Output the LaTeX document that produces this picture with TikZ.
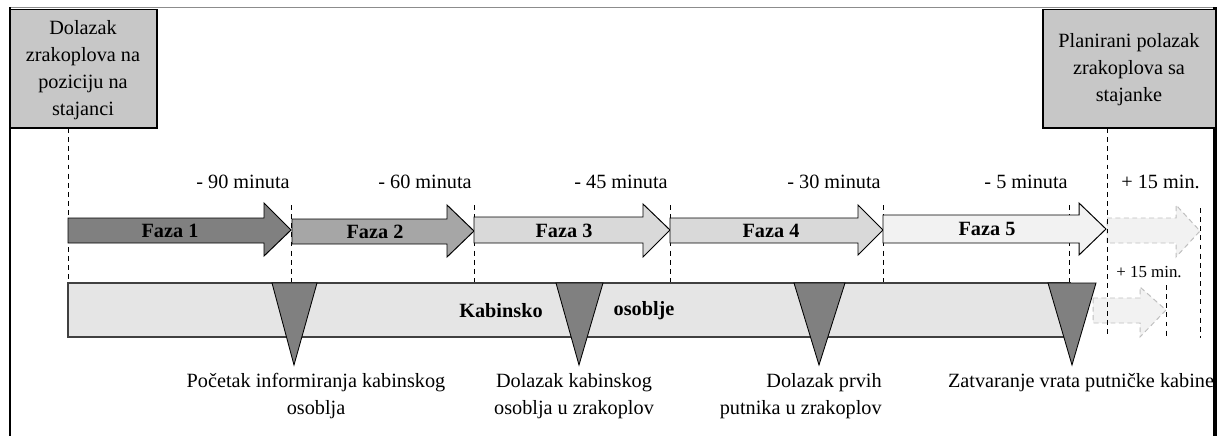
\documentclass[tikz,border=0pt]{standalone}
\usepackage{fontspec}
\setmainfont{Liberation Serif}
\tikzset{
  faza/.style={draw=black,line width=0.7pt},
  oznaka/.style={dash pattern=on 3.5pt off 3pt,line width=0.7pt},
  sjena/.style={dash pattern=on 3.5pt off 2.5pt,draw=black!25,line width=0.7pt,fill=black!5},
  okvir/.style={draw=black,line width=0.7pt,fill=black!22},
  klin/.style={draw=black,line width=0.6pt,fill=black!50},
  tekst/.style={font=\fontsize{14.4}{19.2}\selectfont,inner sep=0pt,align=center},
}
\begin{document}
\begin{tikzpicture}[x=0.025cm,y=-0.025cm]
\useasboundingbox (0,0) rectangle (1219,436);
% okvir slike
\draw[black!45,line width=0.7pt] (10,7)--(1216,7);
\draw[line width=1pt] (10,7)--(10,436);
\draw[line width=2.2pt] (1215,7)--(1215,436);
% produljenje (+15 min.)
\draw[sjena] (1107,218)--(1176,218)--(1176,205)--(1200,231)--(1176,257)--(1176,243)--(1107,243)--cycle;
\draw[sjena] (1093,298)--(1140,298)--(1140,287)--(1166,310)--(1140,337)--(1140,323)--(1093,323)--cycle;
% isprekidane crte
\draw[oznaka] (68,128)--(68,283);
\draw[oznaka] (291,205)--(291,283);
\draw[oznaka] (474,205)--(474,283);
\draw[oznaka] (670,205)--(670,283);
\draw[oznaka] (883,205)--(883,283);
\draw[oznaka] (1069,205)--(1069,283);
\draw[oznaka] (1107,128)--(1107,338);
\draw[oznaka] (1166,285)--(1166,338);
\draw[oznaka] (1200,208)--(1200,338);
% faze
\draw[faza,fill=black!50] (68,218)--(264,218)--(264,203)--(291,230)--(264,256)--(264,243)--(68,243)--cycle;
\draw[faza,fill=black!35] (292,219)--(447,219)--(447,205)--(474,231)--(447,257)--(447,244)--(292,244)--cycle;
\draw[faza,fill=black!15] (474,217)--(643,217)--(643,204)--(670,230)--(643,257)--(643,243)--(474,243)--cycle;
\draw[faza,fill=black!15] (670,218)--(858,218)--(858,205)--(883,230)--(858,255)--(858,243)--(670,243)--cycle;
\draw[faza,fill=black!5] (883,215)--(1079,215)--(1079,203)--(1106,229)--(1079,255)--(1079,243)--(883,243)--cycle;
\node[tekst] (faza1) at (170,231) {\textbf{Faza 1}};
\node[tekst] (faza2) at (375,232) {\textbf{Faza 2}};
\node[tekst] (faza3) at (564,231) {\textbf{Faza 3}};
\node[tekst] (faza4) at (771,231) {\textbf{Faza 4}};
\node[tekst] (faza5) at (987,229) {\textbf{Faza 5}};
% vremena
\node[tekst,anchor=east] (t90) at (290,182) {- 90 minuta};
\node[tekst,anchor=east] (t60) at (472,182) {- 60 minuta};
\node[tekst,anchor=east] (t45) at (668,182) {- 45 minuta};
\node[tekst,anchor=east] (t30) at (881,182) {- 30 minuta};
\node[tekst,anchor=east] (t5) at (1068,182) {- 5 minuta};
\node[tekst,anchor=east] (t15) at (1200,182) {+ 15 min.};
\node[tekst,font=\fontsize{12}{14}\selectfont] (t15b) at (1149,272) {+ 15 min.};
% kabinsko osoblje
\draw[draw=black!75,fill=black!10,line width=0.8pt] (68,283) rectangle (1070,337);
\draw[black!75,line width=1.8pt] (68,337)--(1070,337);
\node[tekst] (kabinsko) at (501,311) {\textbf{Kabinsko}};
\node[tekst] (osoblje) at (644,311) {\textbf{osoblje}};
\draw[klin] (272,283)--(317,283)--(294,365)--cycle;
\draw[klin] (556,283)--(603,283)--(579,365)--cycle;
\draw[klin] (794,283)--(845,283)--(819,365)--cycle;
\draw[klin] (1048,283)--(1096,283)--(1072,365)--cycle;
\node[tekst] (pocetak) at (316,396) {Početak informiranja kabinskog\\osoblja};
\node[tekst] (dolkab) at (574,396) {Dolazak kabinskog\\osoblja u zrakoplov};
\node[tekst,anchor=east,align=right] (dolput) at (882,396) {Dolazak prvih\\putnika u zrakoplov};
\node[tekst] (vrata) at (1081,383) {Zatvaranje vrata putničke kabine};
% pocetak i kraj
\draw[okvir] (10,9) rectangle (157,128);
\draw[line width=2pt] (157,9)--(157,128)--(10,128);
\node[tekst] (dolazak) at (83,70) {Dolazak\\zrakoplova na\\poziciju na\\stajanci};
\draw[okvir] (1043,9) rectangle (1215,128);
\draw[line width=2pt] (1043,9)--(1043,128)--(1215,128);
\node[tekst] (polazak) at (1129,70) {Planirani polazak\\zrakoplova sa\\stajanke};
\end{tikzpicture}
\end{document}
